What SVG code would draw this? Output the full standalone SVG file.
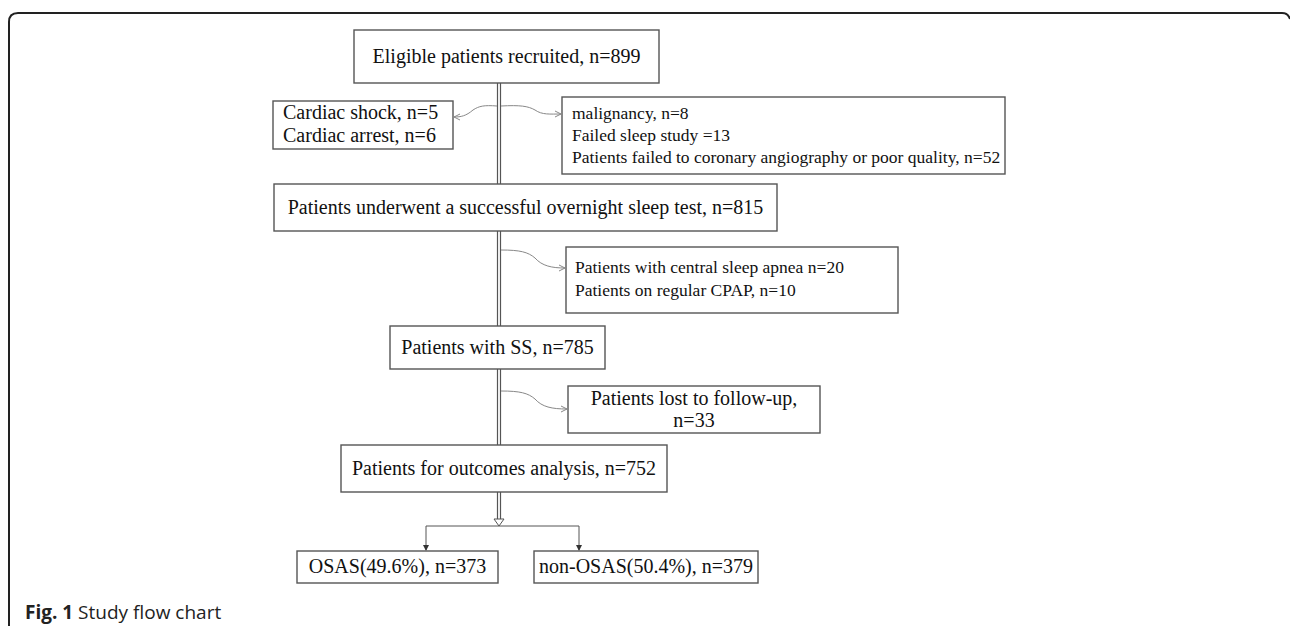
<svg xmlns="http://www.w3.org/2000/svg" width="1290" height="626" viewBox="0 0 1290 626">
<style>
.box{fill:#fff;stroke:#555;stroke-width:1.4}
.t{font-family:"Liberation Serif","Times New Roman",serif;font-size:20px;fill:#111}
.s{font-family:"Liberation Serif","Times New Roman",serif;font-size:17.5px;fill:#111}
.m{text-anchor:middle}
.dl{stroke:#555;stroke-width:1.2;fill:none}
.cv{stroke:#888;stroke-width:1;fill:none;marker-end:url(#open)}
.br{stroke:#555;stroke-width:1;fill:none;marker-end:url(#solid)}
.cap{font-family:"Open Sans","Noto Sans",sans-serif;font-size:19px;fill:#222}
</style>
<defs>
<marker id="open" viewBox="0 0 8 8" refX="7" refY="4" markerWidth="8" markerHeight="8" markerUnits="userSpaceOnUse" orient="auto">
<path d="M1,1 L7,4 L1,7" fill="none" stroke="#888" stroke-width="1"/>
</marker>
<marker id="solid" viewBox="0 0 6 6" refX="5" refY="3" markerWidth="6" markerHeight="6" markerUnits="userSpaceOnUse" orient="auto">
<path d="M0,0 L6,3 L0,6 Z" fill="#333"/>
</marker>
</defs>
<path d="M9,626 V22 Q9,13 18,13 H1282 Q1288,13 1290,19" fill="none" stroke="#222" stroke-width="2"/>
<g id="connectors">
<path class="dl" d="M497.5,83 V519 M500.5,83 V519"/>
<path d="M494,519 H504 L499,526 Z" fill="#fff" stroke="#555" stroke-width="1"/>
<path class="cv" d="M497,106 C484,105 479,106 473,110 C466,116 461,117 454,117"/>
<path class="cv" d="M501,106 C520,105 528,106 535,110 C542,115 550,114 561,114"/>
<path class="cv" d="M501,250 C520,250 528,252 535,258 C542,266 552,268 565,268"/>
<path class="cv" d="M501,391 C520,391 528,393 535,399 C542,407 552,409 567,409"/>
<path class="dl" d="M426,526 H579" style="stroke-width:1"/>
<path class="br" d="M426,526 V550"/>
<path class="br" d="M579,526 V550"/>
</g>
<g id="n1"><rect class="box" x="354" y="30" width="305" height="53"/><text class="t m" x="506.5" y="63">Eligible patients recruited, n=899</text></g>
<g id="n2"><rect class="box" x="273" y="101" width="180" height="48"/><text class="t" x="283" y="119">Cardiac shock, n=5</text><text class="t" x="283" y="142">Cardiac arrest, n=6</text></g>
<g id="n3"><rect class="box" x="562" y="97" width="443" height="77"/><text class="s" x="572" y="119">malignancy, n=8</text><text class="s" x="572" y="141">Failed sleep study =13</text><text class="s" x="572" y="163">Patients failed to coronary angiography or poor quality, n=52</text></g>
<g id="n4"><rect class="box" x="274" y="184" width="503" height="47"/><text class="t m" x="525.5" y="214">Patients underwent a successful overnight sleep test, n=815</text></g>
<g id="n5"><rect class="box" x="566" y="247" width="332" height="66"/><text class="s" x="575" y="273">Patients with central sleep apnea n=20</text><text class="s" x="575" y="296">Patients on regular CPAP, n=10</text></g>
<g id="n6"><rect class="box" x="390" y="326" width="215" height="43"/><text class="t m" x="497.5" y="354">Patients with SS, n=785</text></g>
<g id="n7"><rect class="box" x="568" y="386" width="252" height="47"/><text class="t m" x="694" y="405">Patients lost to follow-up,</text><text class="t m" x="694" y="427">n=33</text></g>
<g id="n8"><rect class="box" x="341" y="445" width="326" height="47"/><text class="t m" x="504" y="475">Patients for outcomes analysis, n=752</text></g>
<g id="n9"><rect class="box" x="297" y="551" width="201" height="32"/><text class="t m" x="397.5" y="573">OSAS(49.6%), n=373</text></g>
<g id="n10"><rect class="box" x="534" y="551" width="224" height="32"/><text class="t m" x="646" y="573">non-OSAS(50.4%), n=379</text></g>
<text class="cap" x="25" y="619"><tspan font-weight="bold">Fig. 1</tspan> Study flow chart</text>
</svg>
